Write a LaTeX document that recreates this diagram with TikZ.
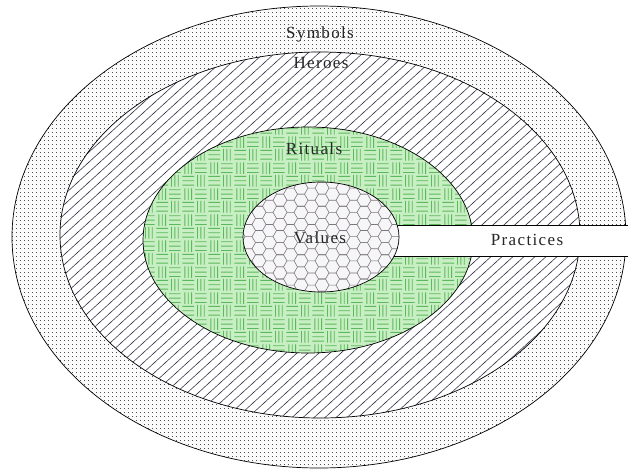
\documentclass[tikz,border=0pt]{standalone}
\usepackage{fontspec}
\setmainfont{Liberation Serif}
\usetikzlibrary{patterns}

\pgfdeclarepatternformonly{mydots}{\pgfqpoint{-1pt}{-1pt}}{\pgfqpoint{1pt}{1pt}}{\pgfqpoint{4pt}{4pt}}{%
  \pgfpathrectangle{\pgfqpoint{-0.5pt}{-0.5pt}}{\pgfqpoint{1pt}{1pt}}\pgfusepath{fill}}

\pgfdeclarepatternformonly{myhatch}{\pgfqpoint{-1pt}{-1pt}}{\pgfqpoint{12pt}{11pt}}{\pgfqpoint{11pt}{10pt}}{%
  \pgfsetlinewidth{0.6pt}%
  \pgfpathmoveto{\pgfqpoint{-1pt}{-0.909pt}}\pgfpathlineto{\pgfqpoint{12pt}{10.909pt}}\pgfusepath{stroke}}

\pgfdeclarepatternformonly{myweave}{\pgfqpoint{0pt}{0pt}}{\pgfqpoint{26pt}{26pt}}{\pgfqpoint{26pt}{26pt}}{%
  \pgfsetlinewidth{0.9pt}%
  % lower-left: horizontal
  \pgfpathmoveto{\pgfqpoint{0.5pt}{2pt}}\pgfpathlineto{\pgfqpoint{12.5pt}{2pt}}%
  \pgfpathmoveto{\pgfqpoint{0.5pt}{6.5pt}}\pgfpathlineto{\pgfqpoint{12.5pt}{6.5pt}}%
  \pgfpathmoveto{\pgfqpoint{0.5pt}{11pt}}\pgfpathlineto{\pgfqpoint{12.5pt}{11pt}}%
  % upper-right: horizontal
  \pgfpathmoveto{\pgfqpoint{13.5pt}{15pt}}\pgfpathlineto{\pgfqpoint{25.5pt}{15pt}}%
  \pgfpathmoveto{\pgfqpoint{13.5pt}{19.5pt}}\pgfpathlineto{\pgfqpoint{25.5pt}{19.5pt}}%
  \pgfpathmoveto{\pgfqpoint{13.5pt}{24pt}}\pgfpathlineto{\pgfqpoint{25.5pt}{24pt}}%
  % lower-right: vertical
  \pgfpathmoveto{\pgfqpoint{16pt}{0.5pt}}\pgfpathlineto{\pgfqpoint{16pt}{12.5pt}}%
  \pgfpathmoveto{\pgfqpoint{19.5pt}{0.5pt}}\pgfpathlineto{\pgfqpoint{19.5pt}{12.5pt}}%
  \pgfpathmoveto{\pgfqpoint{23pt}{0.5pt}}\pgfpathlineto{\pgfqpoint{23pt}{12.5pt}}%
  % upper-left: vertical
  \pgfpathmoveto{\pgfqpoint{3pt}{13.5pt}}\pgfpathlineto{\pgfqpoint{3pt}{25.5pt}}%
  \pgfpathmoveto{\pgfqpoint{6.5pt}{13.5pt}}\pgfpathlineto{\pgfqpoint{6.5pt}{25.5pt}}%
  \pgfpathmoveto{\pgfqpoint{10pt}{13.5pt}}\pgfpathlineto{\pgfqpoint{10pt}{25.5pt}}%
  \pgfusepath{stroke}}

% flat-top hexagons, side 7pt, h = 12.124pt
\pgfdeclarepatternformonly{myhex}{\pgfqpoint{-1pt}{-1pt}}{\pgfqpoint{22pt}{13.2pt}}{\pgfqpoint{21pt}{12.124pt}}{%
  \pgfsetlinewidth{0.6pt}%
  \pgfpathmoveto{\pgfqpoint{3.5pt}{0pt}}\pgfpathlineto{\pgfqpoint{0pt}{6.062pt}}\pgfpathlineto{\pgfqpoint{3.5pt}{12.124pt}}%
  \pgfpathmoveto{\pgfqpoint{3.5pt}{0pt}}\pgfpathlineto{\pgfqpoint{10.5pt}{0pt}}\pgfpathlineto{\pgfqpoint{14pt}{6.062pt}}\pgfpathlineto{\pgfqpoint{10.5pt}{12.124pt}}\pgfpathlineto{\pgfqpoint{3.5pt}{12.124pt}}%
  \pgfpathmoveto{\pgfqpoint{14pt}{6.062pt}}\pgfpathlineto{\pgfqpoint{21pt}{6.062pt}}%
  \pgfusepath{stroke}}

\definecolor{dotbg}{RGB}{250,250,250}
\definecolor{dotcol}{RGB}{80,80,80}
\definecolor{hatchcol}{RGB}{60,60,80}
\definecolor{weavebg}{RGB}{200,238,195}
\definecolor{weavecol}{RGB}{90,185,90}
\definecolor{hexbg}{RGB}{246,245,247}
\definecolor{hexcol}{RGB}{125,120,125}

\tikzset{
  ring/.style={draw=black, line width=0.7pt},
  lbl/.style={font=\fontsize{17}{20}\selectfont\addfontfeature{LetterSpace=8}, text=black!85, inner sep=0pt},
}

\begin{document}
\begin{tikzpicture}[x=1pt,y=-1pt]
\useasboundingbox (0,0) rectangle (628,473);
\fill[white] (0,0) rectangle (628,473);

% Symbols
\coordinate (cS) at (319,237);
\fill[dotbg] (cS) ellipse [x radius=307pt, y radius=231pt];
\fill[pattern=mydots, pattern color=dotcol] (cS) ellipse [x radius=307pt, y radius=231pt];
\draw[ring] (cS) ellipse [x radius=307pt, y radius=231pt];

% Heroes
\coordinate (cH) at (320,235);
\fill[white] (cH) ellipse [x radius=260pt, y radius=183pt];
\fill[pattern=myhatch, pattern color=hatchcol] (cH) ellipse [x radius=260pt, y radius=183pt];
\draw[ring] (cH) ellipse [x radius=260pt, y radius=183pt];

% Rituals
\coordinate (cR) at (308,240);
\fill[weavebg] (cR) ellipse [x radius=165pt, y radius=113pt];
\fill[pattern=myweave, pattern color=weavecol] (cR) ellipse [x radius=165pt, y radius=113pt];
\draw[ring] (cR) ellipse [x radius=165pt, y radius=113pt];

% Practices bar
\coordinate (pTL) at (390,225);
\coordinate (pTR) at (628,225);
\coordinate (pBL) at (390,256);
\coordinate (pBR) at (628,256);
\fill[white] (pTL) rectangle (pBR);
\draw[line width=0.8pt] (pTL) -- (pTR);
\draw[line width=0.8pt] (pBL) -- (pBR);

% Values
\coordinate (cV) at (321,237);
\fill[hexbg] (cV) ellipse [x radius=78pt, y radius=55pt];
\fill[pattern=myhex, pattern color=hexcol] (cV) ellipse [x radius=78pt, y radius=55pt];
\draw[ring] (cV) ellipse [x radius=78pt, y radius=55pt];

% Labels
\node[lbl] (tS) at (320,34) {Symbols};
\node[lbl] (tH) at (321,63) {Heroes};
\node[lbl] (tR) at (314,149) {Rituals};
\node[lbl] (tV) at (320,238) {Values};
\node[lbl] (tP) at (527,240) {Practices};
\end{tikzpicture}
\end{document}
